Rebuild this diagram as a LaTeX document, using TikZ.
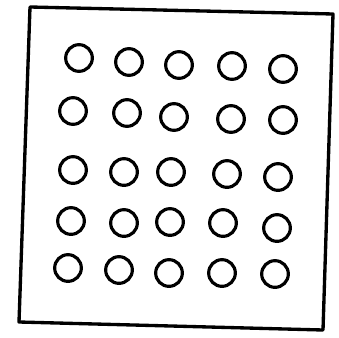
\documentclass[tikz,border=0pt]{standalone}
\usepackage{tikz}
\usetikzlibrary{positioning}

\begin{document}
\begin{tikzpicture}[x=0.3mm, y=-0.3mm, hole/.style={draw, circle, line width=0.95mm, inner sep=0pt, minimum size=8mm}]
  \useasboundingbox (0,0) rectangle (339,337);
  % frame
  \coordinate (tl) at (30,7);
  \coordinate (tr) at (333,14);
  \coordinate (br) at (323,330);
  \coordinate (bl) at (19,322);
  \draw[line width=1mm, line join=round] (tl) -- (tr) -- (br) -- (bl) -- cycle;

  % row 1
  \node[hole] (h11) at (79,58) {};
  \node[hole] (h12) at (129,62) {};
  \node[hole] (h13) at (179,65) {};
  \node[hole] (h14) at (232,66) {};
  \node[hole] (h15) at (283,69) {};
  % row 2
  \node[hole] (h21) at (73,111) {};
  \node[hole] (h22) at (127,113) {};
  \node[hole] (h23) at (174,117) {};
  \node[hole] (h24) at (231,119) {};
  \node[hole] (h25) at (283,120) {};
  % row 3
  \node[hole] (h31) at (73,170) {};
  \node[hole] (h32) at (124,172) {};
  \node[hole] (h33) at (171,172) {};
  \node[hole] (h34) at (227,174) {};
  \node[hole] (h35) at (278,177) {};
  % row 4
  \node[hole] (h41) at (71,221) {};
  \node[hole] (h42) at (124,223) {};
  \node[hole] (h43) at (170,222) {};
  \node[hole] (h44) at (223,223) {};
  \node[hole] (h45) at (277,228) {};
  % row 5
  \node[hole] (h51) at (68,268) {};
  \node[hole] (h52) at (119,270) {};
  \node[hole] (h53) at (169,273) {};
  \node[hole] (h54) at (222,273) {};
  \node[hole] (h55) at (275,274) {};
\end{tikzpicture}
\end{document}
